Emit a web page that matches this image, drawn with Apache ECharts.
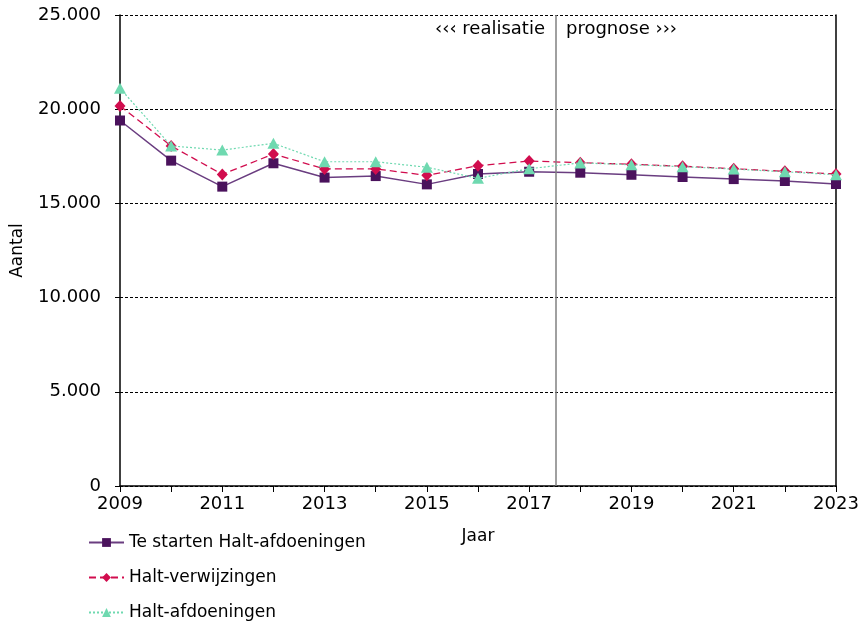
<!DOCTYPE html>
<html>
<head>
<meta charset="utf-8">
<script src="https://cdn.jsdelivr.net/npm/echarts@6/dist/echarts.min.js"></script>
<style>html,body{margin:0;padding:0;background:#fff}#c{width:862px;height:625px}</style>
</head>
<body>
<div id="c"></div>
<script>
const years = [2009,2010,2011,2012,2013,2014,2015,2016,2017,2018,2019,2020,2021,2022,2023];
const teStarten = [19400,17270,15890,17130,16370,16450,16010,16560,16680,16630,16520,16400,16290,16190,16030];
const verwijzingen = [20170,18050,16540,17620,16830,16830,16490,17000,17250,17160,17080,16970,16840,16700,16560];
const afdoeningen = [21110,18050,17830,18190,17210,17210,16920,16330,16840,17150,17050,16950,16820,16680,16520];
const seriesNames = ['Te starten Halt-afdoeningen','Halt-verwijzingen','Halt-afdoeningen'];
const dividerYear = 2017.53;
const FONT = 'DejaVu Sans';

function pairs(vals){ return years.map((y,i)=>[y, vals[i]]); }
function fmt(v){ return String(v).replace(/\B(?=(\d{3})+(?!\d))/g,'.'); }

const chart = echarts.init(document.getElementById('c'), null, {renderer:'canvas'});
chart.setOption({
  animation:false,
  backgroundColor:'#fff',
  grid:{left:120, right:26, top:15, bottom:139, containLabel:false, outerBoundsMode:'none'},
  textStyle:{fontFamily:FONT},
  xAxis:{
    type:'value', min:2009, max:2023, interval:2,
    name:'Jaar', nameLocation:'middle', nameGap:42,
    nameTextStyle:{fontFamily:FONT, fontSize:17, color:'#000'},
    axisLine:{show:true, onZero:false, lineStyle:{color:'#000', width:1.5}},
    axisTick:{show:true, length:6, lineStyle:{color:'#000'}},
    minorTick:{show:true, splitNumber:2, length:6, lineStyle:{color:'#000'}},
    axisLabel:{fontFamily:FONT, fontSize:18, color:'#000', margin:9, formatter:v=>String(v)},
    splitLine:{show:false}
  },
  yAxis:[{
    type:'value', min:0, max:25000, interval:5000,
    name:'Aantal', nameLocation:'middle', nameGap:94,
    nameTextStyle:{fontFamily:FONT, fontSize:17, color:'#000'},
    axisLine:{show:true, lineStyle:{color:'#000', width:1.5}},
    axisTick:{show:true, length:5, lineStyle:{color:'#000'}},
    axisLabel:{fontFamily:FONT, fontSize:18, color:'#000', margin:19, formatter:fmt},
    splitLine:{show:true, lineStyle:{color:'#000', type:[3,2], width:1}}
  },{
    type:'value', min:0, max:25000, position:'right',
    axisLine:{show:true, lineStyle:{color:'#000', width:1.5}},
    axisTick:{show:false}, axisLabel:{show:false}, splitLine:{show:false}
  }],
  legend:{
    orient:'vertical', left:88, top:534, itemGap:18, padding:0,
    itemWidth:35, itemHeight:11,
    textStyle:{fontFamily:FONT, fontSize:17, color:'#000'},
    data:seriesNames
  },
  graphic:[
    {type:'text', right:862-545, top:20, style:{text:'‹‹‹ realisatie', font:'18px "DejaVu Sans"', fill:'#000'}},
    {type:'text', left:566, top:20, style:{text:'prognose ›››', font:'18px "DejaVu Sans"', fill:'#000'}}
  ],
  series:[
    {
      name:seriesNames[0], type:'line', data:pairs(teStarten),
      symbol:'rect', symbolSize:10, showAllSymbol:true,
      itemStyle:{color:'#4A125C'},
      lineStyle:{color:'#6A3D80', width:1.5, type:'solid'},
      markLine:{silent:true, symbol:'none', label:{show:false},
        lineStyle:{color:'#808080', width:1.5, type:'solid'},
        data:[{xAxis:dividerYear}]},
      z:3
    },
    {
      name:seriesNames[1], type:'line', data:pairs(verwijzingen),
      symbol:'diamond', symbolSize:[11,12], showAllSymbol:true,
      itemStyle:{color:'#D10D4E'},
      lineStyle:{color:'#D10D4E', width:1.3, type:[7,4]},
      z:4
    },
    {
      name:seriesNames[2], type:'line', data:pairs(afdoeningen),
      symbol:'triangle', symbolSize:[12,11], showAllSymbol:true,
      itemStyle:{color:'#6FD9B0'},
      lineStyle:{color:'#6FD9B0', width:1.2, type:[2,2]},
      z:5
    }
  ]
});
</script>
</body>
</html>
